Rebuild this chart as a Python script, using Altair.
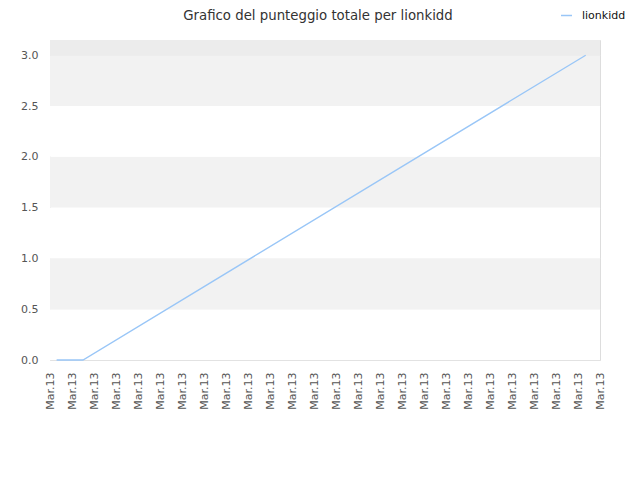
import json
import altair as alt
import pandas as pd

# data
title_text = "Grafico del punteggio totale per lionkidd"
series_name = "lionkidd"
point_x = [0.3, 1.5, 24.35]
point_y = [0.0, 0.0, 3.0]
x_labels = ["Mar.13"] * 26
y_ticks = [0.0, 0.5, 1.0, 1.5, 2.0, 2.5, 3.0]
band_lo = [0.0, 0.5, 1.0, 1.5, 2.0, 2.5, 3.0]
band_hi = [0.5, 1.0, 1.5, 2.0, 2.5, 3.0, 3.15]
band_fill = ["#ffffff", "#f2f2f2", "#ffffff", "#f2f2f2", "#ffffff", "#f2f2f2", "#ececec"]

line_df = pd.DataFrame({"x": point_x, "y": point_y, "s": [series_name] * len(point_x)})
band_df = pd.DataFrame({"lo": band_lo, "hi": band_hi, "fill": band_fill})
title_df = pd.DataFrame({"t": [title_text]})

FONT = "DejaVu Sans"
xdom = [0, len(x_labels) - 1]
ydom = [0, 3.15]

label_expr = json.dumps(x_labels) + "[datum.value]"

bands = alt.Chart(band_df).mark_rect().encode(
    x=alt.value(0),
    x2=alt.value(550),
    y=alt.Y("lo:Q", scale=alt.Scale(domain=ydom, nice=False, zero=False)),
    y2="hi:Q",
    fill=alt.Fill("fill:N", scale=None, legend=None),
)

title = alt.Chart(title_df).mark_text(
    font=FONT, fontSize=13.3, color="#333333", align="center", baseline="alphabetic"
).encode(text="t:N", x=alt.value(268), y=alt.value(-20))

line = alt.Chart(line_df).mark_line(strokeWidth=1.3).encode(
    x=alt.X(
        "x:Q",
        scale=alt.Scale(domain=xdom, nice=False, zero=False),
        axis=alt.Axis(
            title=None,
            values=list(range(len(x_labels))),
            labelExpr=label_expr,
            labelAngle=270,
            labelAlign="right",
            labelBaseline="middle",
            labelPadding=12,
            labelOverlap=False,
            labelFont=FONT,
            labelFontSize=11,
            labelColor="#555555",
            ticks=False,
            grid=False,
            domain=False,
        ),
    ),
    y=alt.Y(
        "y:Q",
        scale=alt.Scale(domain=ydom, nice=False, zero=False),
        axis=alt.Axis(
            title=None,
            values=y_ticks,
            format=".1f",
            labelFont=FONT,
            labelFontSize=11,
            labelColor="#555555",
            labelPadding=12,
            ticks=False,
            grid=True,
            gridColor="#e2e2e2",
            domain=False,
        ),
    ),
    color=alt.Color(
        "s:N",
        scale=alt.Scale(range=["#99c6f7"]),
        legend=alt.Legend(
            title=None,
            orient="none",
            legendX=510,
            legendY=-31,
            padding=0,
            symbolType="stroke",
            symbolStrokeWidth=1.5,
            symbolSize=120,
            labelOffset=9,
            labelFont=FONT,
            labelFontSize=11,
            labelColor="#111111",
        ),
    ),
)

chart = (
    alt.layer(bands, title, line)
    .properties(
        width=550,
        height=320,
        padding={"left": 42, "top": 32, "right": 32, "bottom": 112},
        autosize=alt.AutoSizeParams(type="none"),
    )
    .configure_view(stroke="#dddddd")
    .configure(background="white")
)

chart.save("out.html", embed_options={"renderer": "svg", "actions": False})
